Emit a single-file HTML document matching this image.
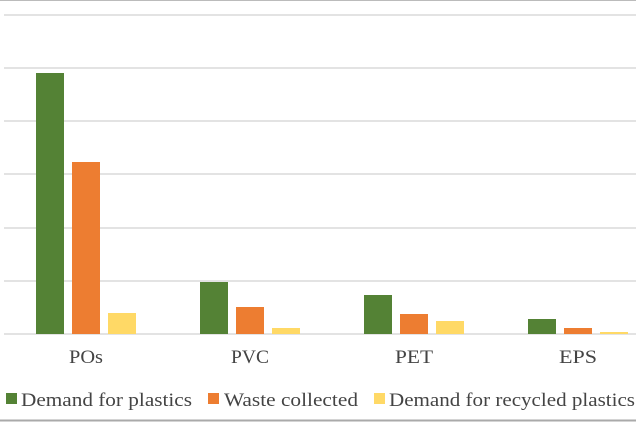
<!DOCTYPE html><html><head><style>body{margin:0;background:#fff}svg{display:block}text{font-family:"Liberation Serif","DejaVu Serif",serif}</style></head><body>
<svg width="636" height="422" xmlns="http://www.w3.org/2000/svg">
<rect width="636" height="422" fill="#fff"/>
<line x1="0" y1="0.5" x2="636" y2="0.5" stroke="#bbb"/>
<line x1="0" y1="420.5" x2="636" y2="420.5" stroke="#aaa" stroke-width="2"/>
<g stroke="#e3e3e3" stroke-width="2">
<line x1="4" y1="15" x2="636" y2="15"/><line x1="4" y1="68" x2="636" y2="68"/><line x1="4" y1="121" x2="636" y2="121"/><line x1="4" y1="174" x2="636" y2="174"/><line x1="4" y1="228" x2="636" y2="228"/><line x1="4" y1="281" x2="636" y2="281"/><line x1="4" y1="334" x2="636" y2="334"/>
</g>
<g fill="#548235">
<rect x="36" y="73" width="28" height="261"/><rect x="200" y="282" width="28" height="52"/><rect x="364" y="295" width="28" height="39"/><rect x="528" y="319" width="28" height="15"/></g>
<g fill="#ed7d31">
<rect x="72" y="162" width="28" height="172"/><rect x="236" y="307" width="28" height="27"/><rect x="400" y="314" width="28" height="20"/><rect x="564" y="328" width="28" height="6"/></g>
<g fill="#ffd966">
<rect x="108" y="313" width="28" height="21"/><rect x="272" y="328" width="28" height="6"/><rect x="436" y="321" width="28" height="13"/><rect x="600" y="332" width="28" height="2"/></g>
<g font-size="19" fill="#444" text-anchor="middle">
<text x="86" y="363" textLength="34" lengthAdjust="spacingAndGlyphs">POs</text><text x="250" y="363" textLength="38" lengthAdjust="spacingAndGlyphs">PVC</text><text x="414" y="363" textLength="38" lengthAdjust="spacingAndGlyphs">PET</text><text x="578" y="363" textLength="38" lengthAdjust="spacingAndGlyphs">EPS</text></g>
<g font-size="19" fill="#444">
<rect x="6" y="393" width="11" height="11" fill="#548235"/><text x="21" y="406" textLength="171" lengthAdjust="spacingAndGlyphs">Demand for plastics</text>
<rect x="208" y="393" width="11" height="11" fill="#ed7d31"/><text x="224" y="406" textLength="134" lengthAdjust="spacingAndGlyphs">Waste collected</text>
<rect x="374" y="393" width="11" height="11" fill="#ffd966"/><text x="389" y="406" textLength="246" lengthAdjust="spacingAndGlyphs">Demand for recycled plastics</text></g>
</svg></body></html>
